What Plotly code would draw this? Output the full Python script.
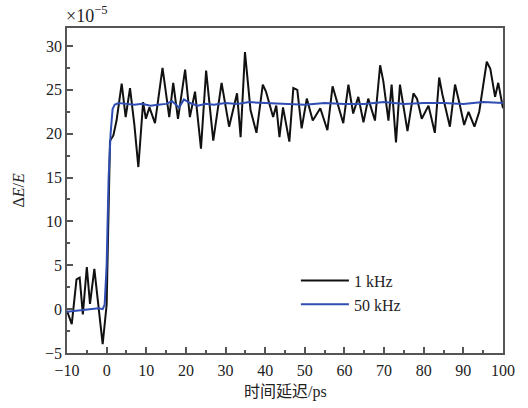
import plotly.graph_objects as go

# 1 kHz (black) trace
x_1k = [-10, -8.8, -7.6, -6.8, -6, -5, -4.2, -3.1, -2.4, -1, 0, 0.4, 0.85, 1.7, 2.5,
        3.8, 4.8, 5.9, 7, 8, 9.2, 9.9, 10.8, 12.2, 14.1, 15.8, 16.8, 18, 19.8, 21,
        22.3, 23.8, 25.1, 26.9, 29, 30.9, 32.9, 33.8, 34.9, 36.3, 37.8, 39.4, 40.2,
        42, 42.8, 43.6, 44.5, 46.1, 47.1, 48.1, 49.2, 50.5, 52, 53.9, 55.7, 57,
        59.7, 61, 62.2, 63.5, 64.8, 66, 67.7, 69, 69.8, 71.1, 71.9, 73, 74, 75.9,
        77.4, 78.3, 79.5, 81.2, 82.8, 83.9, 84.7, 86.6, 87.9, 89, 90.2, 91.3, 92.8,
        94, 95.9, 96.8, 98, 98.8, 100]
y_1k = [-0.2, -1.7, 3.4, 3.6, -0.6, 4.8, 0.6, 4.6, 1.7, -4.0, 0.5, 10, 19.2, 19.8, 21.5,
        25.7, 21.9, 25.2, 21, 16.2, 23.6, 21.7, 23.0, 21.2, 27.5, 21.9, 25.8, 21.7, 27.3, 21.9,
        24.8, 18.3, 27.2, 19.2, 25.8, 20.8, 24.6, 19.6, 29.3, 22.7, 20.1, 25.6, 24.8,
        21.9, 23.2, 19.6, 23.0, 19.1, 25.2, 25.0, 20.6, 24.0, 21.5, 22.9, 20.4, 25.4,
        21.2, 25.6, 22.3, 24.2, 21.3, 24.0, 21.5, 27.8, 26.0, 21.5, 25.6, 19.0, 25.6, 20.3,
        24.6, 24.0, 21.7, 23.2, 20.1, 26.4, 24.5, 20.8, 25.6, 23.5, 21.0, 22.5, 20.8,
        22.5, 28.2, 27.4, 24.2, 25.8, 22.9]

# 50 kHz (blue) trace
x_50k = [-10, -8, -6, -4, -2, -1, -0.5, 0, 0.5, 1, 1.5, 2, 3, 5, 7, 9, 11, 13, 15,
         16.5, 17.5, 18.3, 19.5, 21, 23, 25, 27, 30, 33, 36, 40, 45, 50, 55, 60, 65,
         70, 75, 80, 85, 90, 95, 100]
y_50k = [-0.3, -0.2, -0.1, 0.0, 0.1, 0.0, 0.5, 5, 15, 20, 22.8, 23.3, 23.5, 23.4, 23.3,
         23.4, 23.2, 23.3, 23.4, 23.7, 23.3, 23.0, 23.9, 23.5, 23.2, 23.4, 23.3, 23.5,
         23.4, 23.6, 23.5, 23.4, 23.3, 23.5, 23.4, 23.4, 23.6, 23.4, 23.5, 23.5, 23.4,
         23.6, 23.5]

x_ticks = list(range(-10, 101, 10))
y_ticks = list(range(-5, 31, 5))

SERIF = "Liberation Serif, Times New Roman, Noto Sans CJK SC, serif"
AX = "#555555"

fig = go.Figure()
fig.add_trace(go.Scatter(x=x_1k, y=y_1k, mode="lines", name="1 kHz",
                         line=dict(color="#111111", width=2), legendgroup="a"))
fig.add_trace(go.Scatter(x=x_50k, y=y_50k, mode="lines", name="50 kHz",
                         line=dict(color="#2f4db3", width=2), legendgroup="b"))

fig.update_layout(
    width=528, height=408,
    margin=dict(l=67, r=25, t=28, b=55),
    paper_bgcolor="white", plot_bgcolor="white",
    font=dict(family=SERIF, size=16, color="#222222"),
    showlegend=True,
    legend=dict(x=0.525, y=0.275, xanchor="left", yanchor="top",
                bgcolor="rgba(0,0,0,0)", font=dict(family=SERIF, size=16),
                tracegroupgap=0, itemwidth=48, traceorder="grouped"),
    xaxis=dict(range=[-10, 100], tickvals=x_ticks, ticks="inside", ticklen=6,
               tickwidth=1.5, tickcolor=AX, showline=True, linecolor=AX, linewidth=1.5,
               mirror=True, showgrid=False, zeroline=False,
               minor=dict(dtick=5, tick0=-10, ticks="inside", ticklen=3, tickcolor=AX, tickwidth=1.5),
               tickfont=dict(family=SERIF, size=16), ticklabelstandoff=2),
    yaxis=dict(range=[-5, 32.05], tickvals=y_ticks, ticks="inside", ticklen=6,
               tickwidth=1.5, tickcolor=AX, showline=True, linecolor=AX, linewidth=1.5,
               mirror=True, showgrid=False, zeroline=False,
               minor=dict(dtick=2.5, tick0=-5, ticks="inside", ticklen=3, tickcolor=AX, tickwidth=1.5),
               tickfont=dict(family=SERIF, size=16)),
)

fig.add_annotation(text="×10<sup>−5</sup>", xref="paper", yref="paper", x=0.0, y=1.0,
                   xanchor="left", yanchor="bottom", showarrow=False,
                   font=dict(family=SERIF, size=18), xshift=-3, yshift=0)
fig.add_annotation(text="Δ<i>E</i>/<i>E</i>", xref="paper", yref="paper",
                   x=0, y=0.5, xanchor="center", yanchor="middle", textangle=-90,
                   showarrow=False, xshift=-49, yshift=0,
                   font=dict(family=SERIF, size=16))
fig.add_annotation(text="时间延迟/ps", xref="paper", yref="paper",
                   x=0.5, y=0, xanchor="center", yanchor="top",
                   showarrow=False, yshift=-28, font=dict(family=SERIF, size=16))

fig.write_html("out.html")
